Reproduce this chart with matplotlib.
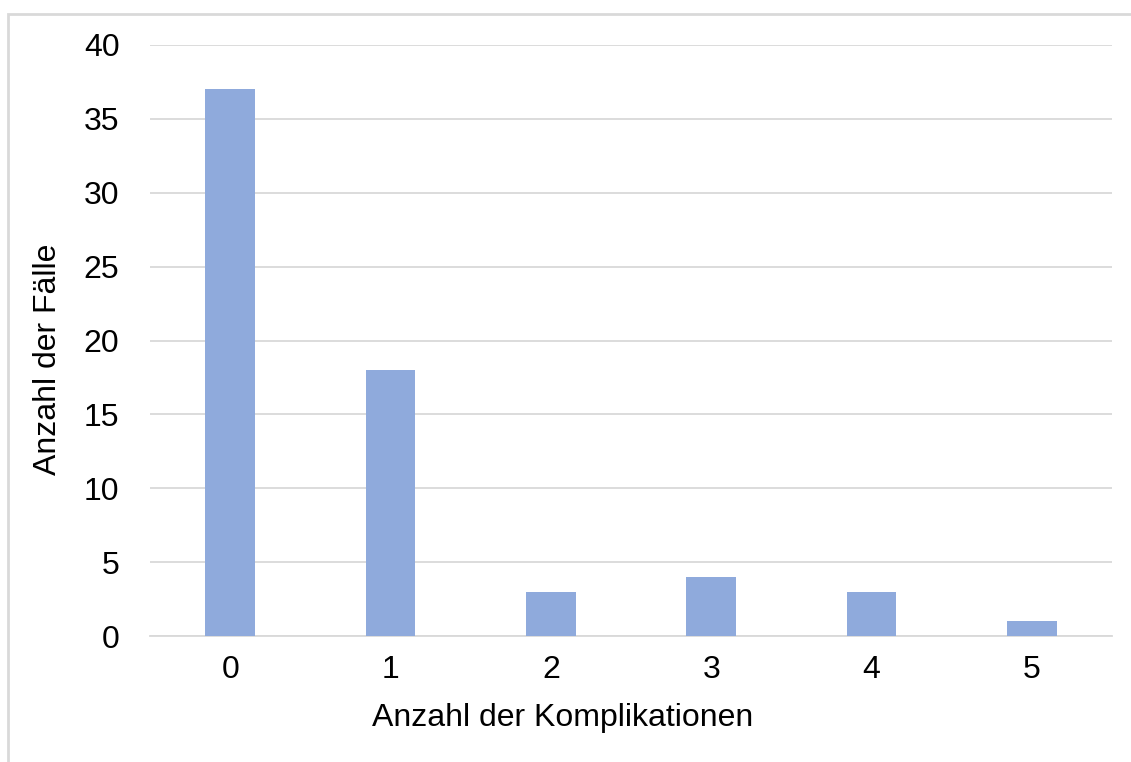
import matplotlib.pyplot as plt
from matplotlib.patches import Rectangle

komplikationen = ["0", "1", "2", "3", "4", "5"]
faelle = [37, 18, 3, 4, 3, 1]
y_ticks = [0, 5, 10, 15, 20, 25, 30, 35, 40]

plt.rcParams["font.family"] = ["Liberation Sans", "DejaVu Sans"]

fig = plt.figure(figsize=(11.31, 7.62), dpi=100)
ax = fig.add_axes([150 / 1131, 1 - 636 / 762, 962 / 1131, 591 / 762])

# outer chart frame (cut at right/bottom like the source)
fig.patches.append(Rectangle((8 / 1131, -0.1), 1.2, 1 - 14 / 762 + 0.1,
                             transform=fig.transFigure, fill=False,
                             edgecolor="#D9D9D9", linewidth=2))

x = range(len(komplikationen))
ax.bar(x, faelle, width=0.31, color="#8FAADC", zorder=3)

ax.set_xlim(-0.5, len(komplikationen) - 0.5)
ax.set_ylim(0, 40)
ax.set_yticks(y_ticks)
ax.set_xticks(list(x))
ax.set_xticklabels(komplikationen)
ax.grid(axis="y", color="#D9D9D9", linewidth=1.3, zorder=0)
ax.tick_params(length=0, labelsize=23, pad=14)
ax.tick_params(axis="y", pad=22)
for s in ["top", "right", "left"]:
    ax.spines[s].set_visible(False)
ax.spines["bottom"].set_color("#D9D9D9")
ax.spines["bottom"].set_linewidth(1.3)

ax.set_xlabel("Anzahl der Komplikationen", fontsize=23, va="center")
ax.xaxis.set_label_coords((563 - 150) / 962, (636 - 718) / 591)
ax.set_ylabel("Anzahl der Fälle", fontsize=23, va="center")
ax.yaxis.set_label_coords((48 - 150) / 962, (636 - 359) / 591)

fig.savefig("out.png", dpi=100)
